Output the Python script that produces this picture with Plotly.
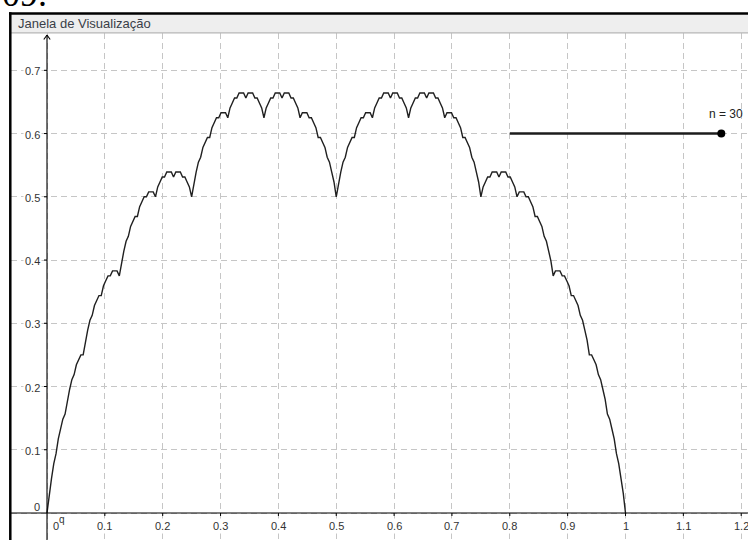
import plotly.graph_objects as go

# Takagi (blancmange) curve sampled on a 1/256 grid, n = 30 terms
curve_x = [k / 256 for k in range(257)]
curve_y = [
    0.0, 0.0313, 0.0547, 0.0781, 0.0938, 0.1172, 0.1328, 0.1484,
    0.1563, 0.1797, 0.1953, 0.2109, 0.2188, 0.2344, 0.2422, 0.25,
    0.25, 0.2734, 0.2891, 0.3047, 0.3125, 0.3281, 0.3359, 0.3438,
    0.3438, 0.3594, 0.3672, 0.375, 0.375, 0.3828, 0.3828, 0.3828,
    0.375, 0.3984, 0.4141, 0.4297, 0.4375, 0.4531, 0.4609, 0.4688,
    0.4688, 0.4844, 0.4922, 0.5, 0.5, 0.5078, 0.5078, 0.5078,
    0.5, 0.5156, 0.5234, 0.5313, 0.5313, 0.5391, 0.5391, 0.5391,
    0.5313, 0.5391, 0.5391, 0.5391, 0.5313, 0.5313, 0.5234, 0.5156,
    0.5, 0.5234, 0.5391, 0.5547, 0.5625, 0.5781, 0.5859, 0.5938,
    0.5938, 0.6094, 0.6172, 0.625, 0.625, 0.6328, 0.6328, 0.6328,
    0.625, 0.6406, 0.6484, 0.6563, 0.6563, 0.6641, 0.6641, 0.6641,
    0.6563, 0.6641, 0.6641, 0.6641, 0.6563, 0.6563, 0.6484, 0.6406,
    0.625, 0.6406, 0.6484, 0.6563, 0.6563, 0.6641, 0.6641, 0.6641,
    0.6563, 0.6641, 0.6641, 0.6641, 0.6563, 0.6563, 0.6484, 0.6406,
    0.625, 0.6328, 0.6328, 0.6328, 0.625, 0.625, 0.6172, 0.6094,
    0.5938, 0.5938, 0.5859, 0.5781, 0.5625, 0.5547, 0.5391, 0.5234,
    0.5,
    0.5234, 0.5391, 0.5547, 0.5625, 0.5781, 0.5859, 0.5938, 0.5938,
    0.6094, 0.6172, 0.625, 0.625, 0.6328, 0.6328, 0.6328, 0.625,
    0.6406, 0.6484, 0.6563, 0.6563, 0.6641, 0.6641, 0.6641, 0.6563,
    0.6641, 0.6641, 0.6641, 0.6563, 0.6563, 0.6484, 0.6406, 0.625,
    0.6406, 0.6484, 0.6563, 0.6563, 0.6641, 0.6641, 0.6641, 0.6563,
    0.6641, 0.6641, 0.6641, 0.6563, 0.6563, 0.6484, 0.6406, 0.625,
    0.6328, 0.6328, 0.6328, 0.625, 0.625, 0.6172, 0.6094, 0.5938,
    0.5938, 0.5859, 0.5781, 0.5625, 0.5547, 0.5391, 0.5234, 0.5,
    0.5156, 0.5234, 0.5313, 0.5313, 0.5391, 0.5391, 0.5391, 0.5313,
    0.5391, 0.5391, 0.5391, 0.5313, 0.5313, 0.5234, 0.5156, 0.5,
    0.5078, 0.5078, 0.5078, 0.5, 0.5, 0.4922, 0.4844, 0.4688,
    0.4688, 0.4609, 0.4531, 0.4375, 0.4297, 0.4141, 0.3984, 0.375,
    0.3828, 0.3828, 0.3828, 0.375, 0.375, 0.3672, 0.3594, 0.3438,
    0.3438, 0.3359, 0.3281, 0.3125, 0.3047, 0.2891, 0.2734, 0.25,
    0.25, 0.2422, 0.2344, 0.2188, 0.2109, 0.1953, 0.1797, 0.1563,
    0.1484, 0.1328, 0.1172, 0.0938, 0.0781, 0.0547, 0.0313, 0.0,
]

# slider for n
slider_x = [0.8, 1.1656]
slider_y = 0.6
slider_label = "n = 30"

# axis tick labels
x_ticks = [0.1, 0.2, 0.3, 0.4, 0.5, 0.6, 0.7, 0.8, 0.9, 1.0, 1.1, 1.2]
x_tick_text = ["0.1", "0.2", "0.3", "0.4", "0.5", "0.6", "0.7", "0.8", "0.9", "1", "1.1", "1.2"]
y_ticks = [0.1, 0.2, 0.3, 0.4, 0.5, 0.6, 0.7]
y_tick_text = ["0.1", "0.2", "0.3", "0.4", "0.5", "0.6", "0.7"]

W, H = 748, 540
LEFT, TOP = 11, 33          # plot area edges (px)
X0_PX, Y0_PX = 47, 513      # origin (px)
SX, SY = 578.5, 632.4       # px per unit

x_range = [(LEFT - X0_PX) / SX, (W - X0_PX) / SX]
y_range = [(Y0_PX - H) / SY, (Y0_PX - TOP) / SY]

FONT = "Liberation Sans, Arial, sans-serif"
LABEL_FONT = dict(family=FONT, size=11, color="#333333")

fig = go.Figure()

fig.add_trace(go.Scatter(
    x=curve_x, y=curve_y, mode="lines",
    line=dict(color="#202020", width=1.4),
    hoverinfo="skip",
))

fig.add_trace(go.Scatter(
    x=slider_x, y=[slider_y, slider_y], mode="lines",
    line=dict(color="#1c1c1c", width=2.4),
    hoverinfo="skip",
))
fig.add_trace(go.Scatter(
    x=[slider_x[1]], y=[slider_y], mode="markers",
    marker=dict(color="#000000", size=8),
    hoverinfo="skip",
))

def px_x(p):
    return p / W

def px_y(p):
    return 1 - p / H

shapes = []
# title bar
shapes.append(dict(type="rect", xref="paper", yref="paper",
                   x0=px_x(LEFT), x1=1, y0=px_y(32.5), y1=px_y(14),
                   fillcolor="#eeeeee", line=dict(width=0), layer="above"))
shapes.append(dict(type="line", xref="paper", yref="paper",
                   x0=px_x(LEFT), x1=1, y0=px_y(32.8), y1=px_y(32.8),
                   line=dict(color="#b5b5b5", width=1.2), layer="above"))
# window frame
shapes.append(dict(type="line", xref="paper", yref="paper",
                   x0=px_x(9), x1=1, y0=px_y(13.5), y1=px_y(13.5),
                   line=dict(color="#000000", width=2.5), layer="above"))
shapes.append(dict(type="line", xref="paper", yref="paper",
                   x0=px_x(10.3), x1=px_x(10.3), y0=0, y1=px_y(12.3),
                   line=dict(color="#000000", width=2.5), layer="above"))
# axes
shapes.append(dict(type="line", xref="paper", yref="y",
                   x0=px_x(LEFT), x1=1, y0=0, y1=0,
                   line=dict(color="#000000", width=1.1)))
shapes.append(dict(type="line", xref="x", yref="paper",
                   x0=0, x1=0, y0=0, y1=px_y(35),
                   line=dict(color="#000000", width=1.1)))
# arrow head on the y axis
for dx in (-3.2, 3.2):
    shapes.append(dict(type="line", xref="paper", yref="paper",
                       x0=px_x(X0_PX), y0=px_y(35),
                       x1=px_x(X0_PX + dx), y1=px_y(39.5),
                       line=dict(color="#000000", width=1.1)))
# tick marks
for v in y_ticks:
    shapes.append(dict(type="line", xref="x", yref="y",
                       xsizemode="pixel", xanchor=0, x0=-3, x1=0,
                       y0=v, y1=v, line=dict(color="#000000", width=1)))
for v in x_ticks:
    shapes.append(dict(type="line", xref="x", yref="y",
                       ysizemode="pixel", yanchor=0, y0=-3, y1=0,
                       x0=v, x1=v, line=dict(color="#000000", width=1)))

annotations = []
for v, t in zip(x_ticks, x_tick_text):
    annotations.append(dict(x=v, y=0, xref="x", yref="y", text=t,
                            showarrow=False, xanchor="center", yanchor="middle",
                            yshift=-12.5, bgcolor="#ffffff", font=LABEL_FONT))
for v, t in zip(y_ticks, y_tick_text):
    annotations.append(dict(x=0, y=v, xref="x", yref="y", text=t,
                            showarrow=False, xanchor="right", yanchor="middle",
                            xshift=-5, yshift=-1, bgcolor="#ffffff", font=LABEL_FONT))
# origin labels
annotations.append(dict(x=0, y=0, xref="x", yref="y", text="0", showarrow=False,
                        xanchor="right", yanchor="middle", xshift=-5, yshift=6,
                        font=LABEL_FONT))
annotations.append(dict(x=0, y=0, xref="x", yref="y", text="0", showarrow=False,
                        xanchor="center", yanchor="middle", xshift=8.5, yshift=-12.5,
                        font=LABEL_FONT))
annotations.append(dict(x=0, y=0, xref="x", yref="y", text="q", showarrow=False,
                        xanchor="center", yanchor="middle", xshift=14.5, yshift=-6.5,
                        font=dict(family=FONT, size=10, color="#333333")))
# slider label
annotations.append(dict(x=slider_x[1], y=slider_y, xref="x", yref="y", text=slider_label,
                        showarrow=False, xanchor="left", yanchor="middle",
                        xshift=-14, yshift=20,
                        font=dict(family=FONT, size=12, color="#222222")))
# window title
annotations.append(dict(x=px_x(16), y=px_y(23.5), xref="paper", yref="paper",
                        text="Janela de Visualização", showarrow=False,
                        xanchor="left", yanchor="middle",
                        font=dict(family=FONT, size=13, color="#3a3e48")))
# heading fragment above the window
annotations.append(dict(x=0, y=px_y(-6), xref="paper", yref="paper",
                        text="09.", showarrow=False,
                        xanchor="left", yanchor="middle",
                        font=dict(family="Liberation Serif, Times New Roman, serif",
                                  size=36, color="#000000")))

fig.update_layout(
    width=W, height=H,
    margin=dict(l=0, r=0, t=0, b=0),
    paper_bgcolor="#ffffff", plot_bgcolor="#ffffff",
    showlegend=False,
    shapes=shapes, annotations=annotations,
    xaxis=dict(domain=[px_x(LEFT), 1], range=x_range, dtick=0.1, tick0=0,
               showgrid=True, gridcolor="#c6c6c6", gridwidth=1, griddash="6px,4px",
               zeroline=False, showticklabels=False, ticks="", fixedrange=True),
    yaxis=dict(domain=[0, px_y(TOP)], range=y_range, dtick=0.1, tick0=0,
               showgrid=True, gridcolor="#c6c6c6", gridwidth=1, griddash="6px,4px",
               zeroline=False, showticklabels=False, ticks="", fixedrange=True),
)

fig.write_html("out.html", config={"displayModeBar": False})
